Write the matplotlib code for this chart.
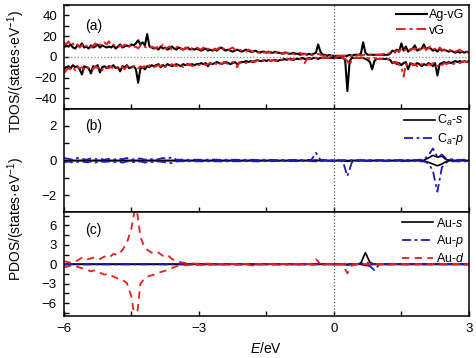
import numpy as np
import matplotlib.pyplot as plt
from matplotlib.ticker import MultipleLocator

plt.rcParams['font.family'] = ['Liberation Sans', 'DejaVu Sans']
plt.rcParams['mathtext.fontset'] = 'custom'
plt.rcParams['mathtext.rm'] = 'Liberation Sans'
plt.rcParams['mathtext.it'] = 'Liberation Sans:italic'

# 能量网格 (a) 步长0.05 eV, (b)(c) 步长0.1 eV
E_a = np.linspace(-6, 3, 181)
E_bc = np.linspace(-6, 3, 91)

# (a) 总态密度, 自旋向上/向下
agvg_up = [9, 11, 10, 12, 9, 8, 11, 10, 13, 9, 10, 8, 11, 9, 10, 12, 9, 11, 10, 9,
           10, 9, 11, 8, 10, 12, 9, 10, 11, 10, 12, 11, 13, 16, 12, 14, 11, 22, 10, 9,
           8, 9, 7, 10, 8, 9, 7, 8, 10, 8, 7, 9, 8, 7, 8, 9, 7, 8, 7, 8,
           7, 6, 7, 8, 6, 7, 6, 7, 6, 8, 9, 7, 6, 7, 6, 5, 6, 7, 6, 5,
           6, 7, 6, 5, 5, 6, 5, 4, 5, 5, 4, 5, 4, 4, 5, 4, 4, 3, 4, 4,
           3, 3, 4, 3, 3, 2, 3, 3, 2, 3, 2, 3, 4, 12, 5, 2, 2, 1, 2, 1,
           1, 1, 1, 1, 1, 1, 1, 2, 1, 2, 2, 2, 3, 14, 4, 2, 2, 2, 2, 2,
           2, 2, 2, 2, 2, 3, 6, 5, 7, 5, 13, 6, 10, 5, 7, 8, 11, 6, 7, 8,
           12, 7, 9, 8, 6, 7, 5, 8, 6, 7, 6, 5, 6, 5, 4, 5, 4, 5, 4, 5,
           4]
agvg_dn = [-12, -10, -9, -11, -8, -10, -9, -12, -17, -9, -10, -11, -16, -9, -10, -8, -15, -10, -9, -11,
           -9, -10, -8, -11, -10, -14, -9, -10, -8, -11, -10, -9, -12, -25, -11, -10, -12, -9, -10, -8,
           -9, -8, -7, -10, -8, -9, -7, -8, -9, -8, -7, -8, -9, -7, -8, -7, -8, -7, -8, -7,
           -7, -6, -7, -6, -9, -6, -7, -6, -5, -6, -7, -6, -5, -6, -7, -6, -5, -7, -6, -5,
           -5, -4, -5, -4, -5, -4, -3, -4, -4, -3, -4, -3, -4, -3, -3, -4, -3, -3, -2, -3,
           -2, -2, -3, -2, -2, -2, -1, -2, -2, -1, -2, -1, -1, -2, -1, -1, -1, -1, -1, -1,
           -1, -1, -1, -1, -1, -3, -33, -4, -1, -1, -1, -1, -1, -1, -2, -3, -5, -12, -4, -2,
           -2, -2, -2, -2, -2, -3, -6, -5, -7, -6, -8, -6, -5, -12, -6, -7, -8, -6, -7, -9,
           -7, -8, -6, -7, -9, -6, -18, -7, -6, -5, -6, -5, -6, -5, -4, -5, -4, -5, -4, -5,
           -4]
vg_up = [14, 12, 15, 11, 13, 10, 12, 9, 11, 13, 10, 12, 9, 11, 13, 10, 12, 11, 14, 12,
         15, 11, 12, 10, 9, 11, 10, 12, 9, 10, 11, 9, 10, 8, 11, 9, 10, 8, 9, 10,
         9, 8, 10, 9, 12, 8, 9, 10, 7, 8, 9, 11, 8, 7, 9, 8, 10, 7, 8, 9,
         8, 7, 9, 6, 8, 7, 6, 8, 7, 9, 6, 8, 7, 6, 8, 9, 7, 6, 7, 6,
         6, 5, 7, 6, 5, 6, 4, 5, 6, 4, 5, 4, 5, 3, 4, 5, 3, 4, 3, 4,
         3, 4, 3, 2, 3, 4, 2, 3, 2, 3, 2, 1, 2, 3, 2, 1, 1, 2, 1, 1,
         1, 1, 0.5, 1, 1, 1, 1, 1, 1, 2, 1, 2, 1, 2, 2, 1, 2, 2, 1, 2,
         2, 2, 3, 2, 3, 4, 5, 4, 6, 5, 8, 6, 7, 9, 6, 8, 7, 10, 8, 6,
         9, 7, 8, 10, 7, 8, 6, 9, 7, 6, 8, 7, 6, 7, 5, 6, 7, 5, 6, 5,
         5]
vg_dn = [-16, -13, -11, -12, -10, -13, -9, -11, -10, -12, -9, -11, -10, -12, -9, -11, -10, -13, -9, -10,
         -11, -9, -12, -10, -11, -9, -10, -12, -9, -10, -11, -9, -10, -11, -9, -10, -9, -11, -8, -9,
         -10, -9, -8, -9, -7, -10, -8, -9, -7, -8, -9, -7, -8, -10, -7, -8, -7, -9, -8, -7,
         -8, -7, -6, -8, -7, -6, -7, -5, -8, -6, -7, -5, -6, -7, -6, -5, -6, -10, -5, -6,
         -5, -6, -4, -5, -4, -5, -3, -4, -5, -3, -4, -3, -4, -3, -4, -3, -2, -3, -2, -3,
         -2, -3, -2, -2, -3, -2, -3, -6, -2, -2, -1, -2, -1, -1, -2, -1, -1, -1, -1, -1,
         -1, -1, -1, -1, -1, -2, -4, -8, -2, -1, -1, -1, -1, -1, -1, -1, -2, -2, -1, -2,
         -2, -2, -2, -3, -2, -4, -5, -6, -5, -8, -10, -19, -7, -9, -6, -8, -7, -9, -10, -7,
         -8, -9, -7, -8, -6, -10, -9, -7, -8, -6, -7, -6, -5, -7, -6, -5, -6, -5, -4, -5,
         -5]

# (b) Ca 分波态密度
cas_up = [0, 0, 0, 0, 0, 0, 0, 0, 0, 0,
          0, 0, 0, 0, 0, 0, 0, 0, 0, 0,
          0, 0, 0, 0, 0, 0, 0, 0, 0, 0,
          0, 0, 0, 0, 0, 0, 0, 0, 0, 0,
          0, 0, 0, 0, 0, 0, 0, 0, 0, 0,
          0, 0, 0, 0, 0, 0, 0.02, 0, 0, 0,
          0, 0, 0, 0, 0, 0, 0, 0, 0, 0,
          0, 0, 0, 0, 0, 0, 0, 0, 0, 0,
          0.02, 0.15, 0.3, 0.2, 0.25, 0.05, 0.02, 0, 0, 0,
          0]
cas_dn = [0, 0, 0, 0, 0, 0, 0, 0, 0, 0,
          0, 0, 0, 0, 0, 0, 0, 0, 0, 0,
          0, 0, 0, 0, 0, 0, 0, 0, 0, 0,
          0, 0, 0, 0, 0, 0, 0, 0, 0, 0,
          0, 0, 0, 0, 0, 0, 0, 0, 0, 0,
          0, 0, 0, 0, 0, 0, 0, 0, 0, 0,
          0, 0, 0, -0.05, 0, 0, 0, 0, 0, 0,
          0, 0, 0, 0, 0, 0, 0, 0, 0, 0,
          -0.02, -0.1, -0.2, -0.3, -0.2, -0.05, 0, 0, 0, 0,
          0]
cap_up = [0.15, 0.1, 0.05, 0.15, 0.1, 0.05, 0.12, 0.08, 0.1, 0.05,
          0.1, 0.05, 0.12, 0.08, 0.15, 0.05, 0.1, 0.12, 0.05, 0.1,
          0.05, 0.08, 0.15, 0.1, 0.2, 0.05, 0.05, 0.05, 0.04, 0.05,
          0.05, 0.04, 0.05, 0.06, 0.05, 0.04, 0.05, 0.04, 0.05, 0.04,
          0.04, 0.05, 0.04, 0.03, 0.04, 0.05, 0.04, 0.03, 0.04, 0.03,
          0.03, 0.04, 0.03, 0.03, 0.03, 0.04, 0.45, 0.05, 0.03, 0.02,
          0.02, 0.02, 0.02, 0.03, 0.02, 0.02, 0.03, 0.02, 0.03, 0.02,
          0.03, 0.02, 0.03, 0.02, 0.03, 0.04, 0.03, 0.04, 0.03, 0.05,
          0.05, 0.3, 0.7, 0.2, 0.35, 0.1, 0.08, 0.05, 0.04, 0.05,
          0.05]
cap_dn = [-0.1, -0.05, -0.12, -0.08, -0.05, -0.1, -0.06, -0.12, -0.05, -0.08,
          -0.05, -0.1, -0.06, -0.12, -0.05, -0.08, -0.1, -0.05, -0.12, -0.06,
          -0.1, -0.05, -0.08, -0.12, -0.15, -0.05, -0.04, -0.05, -0.04, -0.05,
          -0.04, -0.05, -0.04, -0.05, -0.04, -0.05, -0.04, -0.05, -0.04, -0.04,
          -0.04, -0.03, -0.04, -0.05, -0.04, -0.03, -0.04, -0.03, -0.04, -0.03,
          -0.03, -0.03, -0.04, -0.03, -0.03, -0.03, -0.05, -0.03, -0.03, -0.02,
          -0.02, -0.02, -0.05, -0.9, -0.1, -0.03, -0.02, -0.02, -0.03, -0.02,
          -0.03, -0.02, -0.03, -0.02, -0.03, -0.04, -0.03, -0.04, -0.03, -0.05,
          -0.05, -0.15, -0.6, -1.8, -0.4, -0.1, -0.05, -0.04, -0.05, -0.04,
          -0.05]

# (c) Au 分波态密度
aus_up = [0, 0, 0, 0, 0, 0, 0, 0, 0, 0,
          0, 0, 0, 0, 0, 0, 0, 0, 0, 0,
          0, 0, 0, 0, 0, 0, 0, 0, 0, 0,
          0, 0, 0, 0, 0, 0, 0, 0, 0, 0,
          0, 0, 0, 0, 0, 0, 0, 0, 0, 0,
          0, 0, 0, 0, 0, 0, 0.05, 0, 0, 0,
          0, 0, 0, 0, 0, 0, 0.2, 1.8, 0.3, 0,
          0, 0, 0, 0, 0, 0, 0, 0, 0, 0,
          0, 0, 0, 0, 0, 0, 0, 0, 0, 0,
          0]
aus_dn = [0, 0, 0, 0, 0, 0, 0, 0, 0, 0,
          0, 0, 0, 0, 0, 0, 0, 0, 0, 0,
          0, 0, 0, 0, 0, 0, 0, 0, 0, 0,
          0, 0, 0, 0, 0, 0, 0, 0, 0, 0,
          0, 0, 0, 0, 0, 0, 0, 0, 0, 0,
          0, 0, 0, 0, 0, 0, 0, 0, 0, 0,
          0, 0, 0, -0.1, 0, 0, 0, -0.2, -0.1, 0,
          0, 0, 0, 0, 0, 0, 0, 0, 0, 0,
          0, 0, 0, 0, 0, 0, 0, 0, 0, 0,
          0]
aup_up = [0, 0, 0, 0, 0, 0, 0, 0, 0, 0,
          0, 0, 0, 0, 0, 0, 0, 0, 0, 0,
          0, 0, 0, 0, 0, 0, 0, 0, 0, 0,
          0, 0, 0, 0, 0, 0, 0, 0, 0, 0,
          0, 0, 0, 0, 0, 0, 0, 0, 0, 0,
          0, 0, 0, 0, 0, 0, 0, 0, 0, 0,
          0, 0, 0, 0, 0, 0, 0, 0.3, 0.1, 0,
          0, 0, 0, 0, 0, 0, 0, 0, 0, 0,
          0, 0, 0, 0, 0, 0, 0, 0, 0, 0,
          0]
aup_dn = [0, 0, 0, 0, 0, 0, 0, 0, 0, 0,
          0, 0, 0, 0, 0, 0, 0, 0, 0, 0,
          0, 0, 0, 0, 0, 0, 0, 0, 0, 0,
          0, 0, 0, 0, 0, 0, 0, 0, 0, 0,
          0, 0, 0, 0, 0, 0, 0, 0, 0, 0,
          0, 0, 0, 0, 0, 0, 0, 0, 0, 0,
          0, 0, 0, 0, 0, 0, 0, -0.1, -0.3, -0.9,
          -0.1, 0, 0, 0, 0, 0, 0, 0, 0, 0,
          0, 0, 0, 0, 0, 0, 0, 0, 0, 0,
          0]
aud_up = [0.5, 0.3, 0.2, 0.6, 1.0, 0.7, 0.9, 1.1, 0.8, 1.2,
          1.0, 1.6, 1.4, 2.2, 3.3, 5.5, 9.5, 4.2, 2.5, 2.0,
          1.6, 1.8, 1.3, 1.5, 0.8, 0.5, 0.3, 0.2, 0.15, 0.1,
          0.1, 0.08, 0.1, 0.05, 0.08, 0.05, 0.06, 0.05, 0.05, 0.06,
          0.05, 0.05, 0.04, 0.05, 0.04, 0.05, 0.04, 0.04, 0.05, 0.04,
          0.04, 0.04, 0.05, 0.04, 0.04, 0.04, 0.8, 0.05, 0.04, 0.03,
          0.03, 0.03, 0.03, 0.05, 0.04, 0.03, 0.03, 0.05, 0.04, 0.03,
          0.03, 0.03, 0.03, 0.03, 0.03, 0.03, 0.03, 0.03, 0.03, 0.03,
          0.03, 0.03, 0.03, 0.03, 0.03, 0.03, 0.03, 0.03, 0.03, 0.03,
          0.03]
aud_dn = [-0.5, -0.3, -0.2, -0.4, -0.6, -0.8, -1.1, -0.9, -1.3, -1.6,
          -1.5, -1.9, -2.2, -2.4, -2.9, -5.0, -9.5, -3.0, -2.1, -1.8,
          -1.6, -1.3, -1.1, -0.9, -0.6, -0.3, -0.2, -0.15, -0.1, -0.1,
          -0.1, -0.08, -0.1, -0.05, -0.08, -0.05, -0.06, -0.05, -0.05, -0.06,
          -0.05, -0.05, -0.2, -0.05, -0.04, -0.05, -0.04, -0.04, -0.05, -0.04,
          -0.04, -0.04, -0.05, -0.04, -0.04, -0.04, -0.05, -0.04, -0.04, -0.03,
          -0.03, -0.03, -0.1, -1.4, -0.2, -0.03, -0.03, -0.05, -0.04, -0.03,
          -0.03, -0.03, -0.03, -0.03, -0.03, -0.03, -0.03, -0.03, -0.03, -0.03,
          -0.03, -0.03, -0.03, -0.03, -0.03, -0.03, -0.03, -0.03, -0.03, -0.03,
          -0.03]

red = '#e3201f'
blue = '#1c1cb8'
dashdot = (0, (5, 2, 1.5, 2))
dashed = (0, (4, 3))

fig, axes = plt.subplots(3, 1, sharex=True, figsize=(4.77, 3.58), dpi=100)
fig.subplots_adjust(left=0.134, right=0.983, top=0.986, bottom=0.117, hspace=0)
ax1, ax2, ax3 = axes

# (a)
ax1.axhline(0, color='#888888', lw=0.9, ls=':')
ax1.plot(E_a, agvg_up, color='k', lw=1.5, label='Ag-vG')
ax1.plot(E_a, agvg_dn, color='k', lw=1.5)
ax1.plot(E_a, vg_up, color=red, lw=1.4, ls=dashdot, label='vG')
ax1.plot(E_a, vg_dn, color=red, lw=1.4, ls=dashdot)
ax1.set_ylim(-50, 50)
ax1.yaxis.set_major_locator(MultipleLocator(20))
ax1.yaxis.set_minor_locator(MultipleLocator(10))

# (b)
ax2.plot(E_bc, cas_up, color='k', lw=1.2, label='C$_a$-$s$')
ax2.plot(E_bc, cas_dn, color='k', lw=1.2)
ax2.plot(E_bc, cap_up, color=blue, lw=1.3, ls=dashdot, label='C$_a$-$p$')
ax2.plot(E_bc, cap_dn, color=blue, lw=1.3, ls=dashdot)
ax2.set_ylim(-3, 3)
ax2.yaxis.set_major_locator(MultipleLocator(2))
ax2.yaxis.set_minor_locator(MultipleLocator(1))

# (c)
ax3.plot(E_bc, aus_up, color='k', lw=1.2, label='Au-$s$')
ax3.plot(E_bc, aus_dn, color='k', lw=1.2)
ax3.plot(E_bc, aup_up, color=blue, lw=1.3, ls=dashdot, label='Au-$p$')
ax3.plot(E_bc, aup_dn, color=blue, lw=1.3, ls=dashdot)
ax3.plot(E_bc, aud_up, color=red, lw=1.3, ls=dashed, label='Au-$d$')
ax3.plot(E_bc, aud_dn, color=red, lw=1.3, ls=dashed)
ax3.set_ylim(-8, 8)
ax3.yaxis.set_major_locator(MultipleLocator(3))
ax3.yaxis.set_minor_locator(MultipleLocator(1.5))

for ax, tag, ty in zip(axes, ['(a)', '(b)', '(c)'], [0.8, 0.83, 0.83]):
    ax.axvline(0, color='#555555', lw=0.9, ls=':')
    ax.text(0.053, ty, tag, transform=ax.transAxes, fontsize=10, va='center')
    ax.legend(loc='upper right', frameon=False, fontsize=9, handlelength=2.5,
              handletextpad=0.2, labelspacing=0.25, borderaxespad=0.15, borderpad=0.2)
    ax.tick_params(which='both', direction='in', length=3.5, width=1, labelsize=9.5, pad=5,
                   top=False, right=False)
    for s in ax.spines.values():
        s.set_linewidth(1.1)

ax3.set_xlim(-6, 3)
ax3.xaxis.set_major_locator(MultipleLocator(3))
ax3.xaxis.set_minor_locator(MultipleLocator(1.5))
ax3.set_xlabel('$E$/eV', fontsize=10, labelpad=4)

fig.text(0.034, 0.80, 'TDOS/(states·eV$^{-1}$)', rotation=90, fontsize=10, ha='center', va='center')
fig.text(0.034, 0.388, 'PDOS/(states·eV$^{-1}$)', rotation=90, fontsize=10, ha='center', va='center')

plt.savefig('out.png', dpi=100)
